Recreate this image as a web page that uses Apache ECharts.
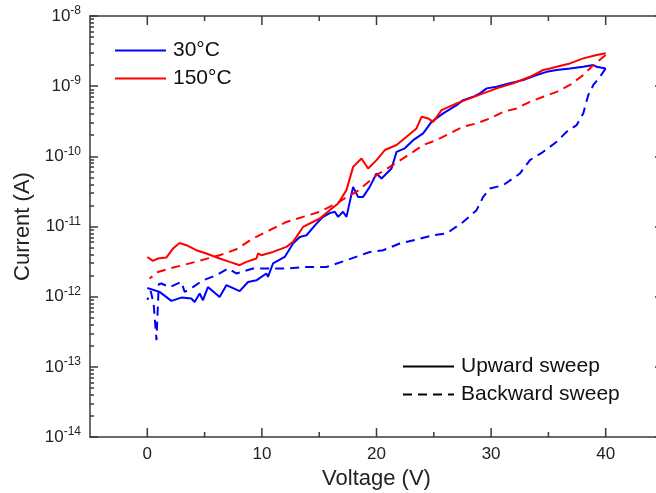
<!DOCTYPE html>
<html lang="en">
<head>
    <meta charset="UTF-8">
    <title>I-V sweep</title>
    <script src="https://cdn.jsdelivr.net/npm/echarts@6/dist/echarts.min.js"></script>
</head>
<style>
    body{
        margin:0;
        background:#fff;
    }
    #chart{
        width:656px;
        height:493px;
    }
</style>
<body>
<div id="chart"></div>
</body>
<script>
    // 30°C upward sweep
    var v30Up = [0,1.07,2.1,2.97,3.84,4.13,4.57,4.86,5.29,6.31,6.9,8.06,8.79,9.52,10.39,10.53,10.97,11.99,12.72,13.3,
        13.89,14.76,15.34,15.92,16.36,16.65,17.08,17.38,17.96,18.39,18.83,19.41,20.0,20.44,21.31,21.75,22.47,23.2,24.07,24.8,
        25.82,26.99,27.56,28.44,29.02,29.61,30.48,31.64,32.8,33.97,34.85,35.72,36.88,38.04,38.92,39.21,40];
    var i30Up = [1.33e-12,1.17e-12,0.87e-12,0.97e-12,0.94e-12,0.84e-12,1.11e-12,0.89e-12,1.37e-12,0.99e-12,
        1.46e-12,1.2e-12,1.62e-12,1.71e-12,2.14e-12,1.91e-12,2.97e-12,3.68e-12,5.72e-12,7.1e-12,
        7.5e-12,1.1e-11,1.37e-11,1.55e-11,1.62e-11,1.37e-11,1.62e-11,1.37e-11,3.67e-11,2.64e-11,
        2.64e-11,3.67e-11,5.7e-11,4.84e-11,6.71e-11,1.16e-10,1.3e-10,1.7e-10,2.12e-10,3.1e-10,
        4.09e-10,5.37e-10,6.33e-10,7.06e-10,7.89e-10,9.3e-10,9.8e-10,1.1e-9,1.22e-9,1.44e-9,
        1.6e-9,1.7e-9,1.79e-9,1.89e-9,2.0e-9,1.89e-9,1.79e-9];

    // 30°C backward sweep (40 V -> 0 V)
    var v30Back = [40,39.5,38.92,38.48,38.04,37.47,36.59,35.72,34.55,33.39,32.52,31.06,29.9,29.31,28.73,27.56,26.11,24.94,23.78,22.03,
        20.58,19.41,17.38,15.63,13.89,12.14,10.68,9.22,7.77,7.04,6.03,4.86,3.98,3.26,2.97,1.95,1.22,1.0,0.8,0.55,0.3,0];
    var i30Back = [1.79e-9,1.36e-9,1.04e-9,7.46e-10,4.09e-10,2.79e-10,2.24e-10,1.61e-10,1.16e-10,8.83e-11,
        5.7e-11,3.88e-11,3.48e-11,2.64e-11,1.71e-11,1.16e-11,7.94e-12,7.5e-12,6.7e-12,5.72e-12,
        4.59e-12,4.34e-12,3.3e-12,2.65e-12,2.65e-12,2.52e-12,2.52e-12,2.52e-12,2.14e-12,2.52e-12,
        2.02e-12,1.71e-12,1.37e-12,1.17e-12,1.62e-12,1.37e-12,1.54e-12,1.5e-12,2.4e-13,8e-13,1.2e-12,0.9e-12];

    // 150°C upward sweep
    var v150Up = [0,0.49,0.93,1.66,2.24,2.82,3.41,4.28,5.15,6.31,7.19,8.06,8.65,9.52,9.66,9.96,10.97,12.14,12.72,13.59,
        15.05,15.92,16.65,17.38,17.96,18.69,19.27,20.0,20.73,21.75,22.62,23.49,23.93,24.51,24.94,25.68,26.99,28.15,29.31,30.48,
        31.93,33.39,34.55,35.14,35.72,36.88,38.04,39.21,40];
    var i150Up = [3.68e-12,3.23e-12,3.5e-12,3.61e-12,4.85e-12,5.83e-12,5.41e-12,4.59e-12,4.12e-12,3.5e-12,
        3.13e-12,2.81e-12,3.13e-12,3.5e-12,4.12e-12,3.9e-12,4.34e-12,5.12e-12,6.03e-12,9.86e-12,
        1.3e-11,1.71e-11,2.13e-11,3.3e-11,7.08e-11,9.33e-11,6.71e-11,8.83e-11,1.23e-10,1.45e-10,
        1.9e-10,2.5e-10,3.66e-10,3.47e-10,3.1e-10,4.56e-10,5.69e-10,6.7e-10,7.89e-10,9.3e-10,
        1.1e-9,1.36e-9,1.7e-9,1.79e-9,1.89e-9,2.11e-9,2.49e-9,2.78e-9,2.94e-9];

    // 150°C backward sweep (40 V -> 0 V)
    var v150Back = [40,38.92,38.04,36.88,35.72,34.55,33.39,32.23,31.06,29.9,28.73,27.56,26.4,25.24,24.07,23.2,22.32,21.16,20.0,19.13,
        18.25,17.38,16.51,15.05,13.59,12.14,10.68,9.22,7.77,6.31,4.57,3.11,1.95,0.93,0.2];
    var i150Back = [2.78e-9,2.0e-9,1.44e-9,1.04e-9,8.3e-10,7.06e-10,5.99e-10,4.82e-10,4.31e-10,3.47e-10,
        2.95e-10,2.64e-10,2.12e-10,1.7e-10,1.45e-10,1.16e-10,9.33e-11,7.08e-11,5.39e-11,4.1e-11,
        3.12e-11,2.62e-11,2.13e-11,1.62e-11,1.37e-11,1.16e-11,8.85e-12,6.74e-12,4.74e-12,3.9e-12,
        3.25e-12,2.81e-12,2.52e-12,2.25e-12,1.81e-12];

    // voltage tick values
    var xMajor = [0,10,20,30,40];
    var xMinor = [5,15,25,35];

    function pairs(xs, ys) {
        var out = [];
        for (var i = 0; i < xs.length; i++) {
            out.push([xs[i], ys[i]]);
        }
        return out;
    }

    var axisColor = '#3a3a3a';
    var blue = '#0000ff';
    var red = '#ff0000';
    var lineW = 1.5;

    function frameX(pos, labels) {
        var ax = {
            type: 'value', position: pos, min: -5, max: 45, interval: 5,
            axisLine: {show: true, onZero: false, lineStyle: {color: axisColor, width: lineW}},
            axisTick: {show: false},
            axisLabel: {show: labels, fontSize: 17, color: '#222', margin: 9,
                formatter: function (v) {
                    return xMajor.indexOf(v) >= 0 ? String(v) : '';
                }},
            splitLine: {show: false}
        };
        if (labels) {
            ax.name = 'Voltage (V)';
            ax.nameLocation = 'middle';
            ax.nameGap = 28;
            ax.nameTextStyle = {fontSize: 22, color: '#222'};
        }
        return ax;
    }
    function logY(pos, labels) {
        var ax = {
            type: 'log', logBase: 10, position: pos, min: 1e-14, max: 1e-8,
            axisLine: {show: true, onZero: false, lineStyle: {color: axisColor, width: lineW}},
            axisTick: {show: true, inside: true, length: 8, lineStyle: {color: axisColor, width: lineW}},
            minorTick: {show: true, splitNumber: 9, length: 4, lineStyle: {color: axisColor, width: lineW}},
            axisLabel: {show: false},
            splitLine: {show: false}
        };
        if (labels) {
            ax.axisLabel = {
                show: true, margin: 9,
                formatter: function (v) {
                    return '{b|10}{s|' + Math.round(Math.log10(v)) + '}';
                },
                rich: {
                    b: {fontSize: 17, color: '#222'},
                    s: {fontSize: 12, color: '#222', padding: [0, 0, 10, 0]}
                }
            };
            ax.name = 'Current (A)';
            ax.nameLocation = 'middle';
            ax.nameGap = 50;
            ax.nameTextStyle = {fontSize: 22, color: '#222'};
        }
        return ax;
    }

    function line(name, xs, ys, color, dashed) {
        return {
            name: name, type: 'line', data: pairs(xs, ys),
            symbol: 'none', showSymbol: false,
            color: color,
            lineStyle: {color: color, width: 2, type: dashed ? [9, 6] : 'solid'},
            xAxisIndex: 0, yAxisIndex: 0
        };
    }

    var legendBase = {
        orient: 'vertical', padding: 0,
        itemWidth: 51, itemHeight: 20, itemGap: 7,
        selectedMode: false,
        itemStyle: {opacity: 0},
        textStyle: {fontSize: 21, color: '#111', padding: [0, 0, 0, 2]}
    };

    var myChart = echarts.init(document.getElementById('chart'));
    myChart.setOption({
        animation: false,
        textStyle: {fontFamily: 'Liberation Sans, Arial, sans-serif'},
        grid: {left: 90, top: 16, width: 573, height: 421, outerBoundsMode: 'none', containLabel: false},
        xAxis: [frameX('bottom', true), frameX('top', false)],
        yAxis: [logY('left', true), logY('right', false)],
        legend: [
            Object.assign({}, legendBase, {data: ['30°C', '150°C'], left: 114, top: 40}),
            Object.assign({}, legendBase, {data: ['Upward sweep', 'Backward sweep'], left: 402, top: 356})
        ],
        series: [
            line('30°C', v30Up, i30Up, blue, false),
            line('30°C', v30Back, i30Back, blue, true),
            line('150°C', v150Up, i150Up, red, false),
            line('150°C', v150Back, i150Back, red, true),
            {name: 'Upward sweep', type: 'line', data: [], symbol: 'none', color: '#000',
                lineStyle: {color: '#000', width: 2, type: 'solid'}},
            {name: 'Backward sweep', type: 'line', data: [], symbol: 'none', color: '#000',
                lineStyle: {color: '#000', width: 2, type: [9, 6]}}
        ]
    });

    // voltage tick marks (inside, top and bottom), placed through the x axis scale
    var yBottom = myChart.convertToPixel({yAxisIndex: 0}, 1e-14);
    var yTop = myChart.convertToPixel({yAxisIndex: 0}, 1e-8);
    var ticks = [];
    function addTicks(values, len) {
        values.forEach(function (v) {
            var x = myChart.convertToPixel({xAxisIndex: 0}, v);
            [[yBottom, yBottom - len], [yTop, yTop + len]].forEach(function (ends) {
                ticks.push({
                    type: 'line', silent: true, z: 5,
                    shape: {x1: x, y1: ends[0], x2: x, y2: ends[1]},
                    style: {stroke: axisColor, lineWidth: lineW}
                });
            });
        });
    }
    addTicks(xMajor, 9);
    addTicks(xMinor, 5);
    myChart.setOption({graphic: ticks});
</script>
</html>
